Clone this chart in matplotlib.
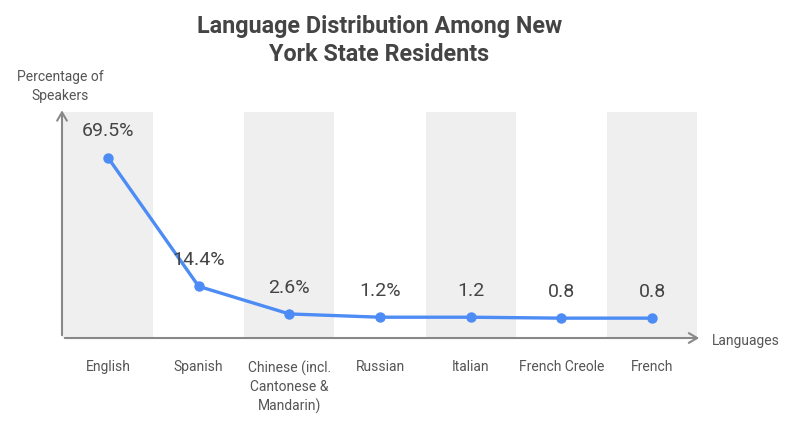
import matplotlib.pyplot as plt

plt.rcParams['font.family'] = ['Roboto', 'DejaVu Sans']

languages = ["English", "Spanish", "Chinese (incl.\nCantonese &\nMandarin)", "Russian",
             "Italian", "French Creole", "French"]
percent = [69.5, 14.4, 2.6, 1.2, 1.2, 0.8, 0.8]
value_labels = ["69.5%", "14.4%", "2.6%", "1.2%", "1.2", "0.8", "0.8"]

fig = plt.figure(figsize=(8, 4.24), dpi=100)
ax = fig.add_axes([0.0775, 0.2028, 0.8, 0.533])

x = list(range(len(languages)))

# alternating background bands
for i in x[::2]:
    ax.axvspan(i - 0.496, i + 0.496, color='#efefef', lw=0, zorder=0)

ax.plot(x, percent, color='#4d8cf5', lw=2.4, marker='o', markersize=6.5, zorder=3)

for xi, yi, lab in zip(x, percent, value_labels):
    ax.annotate(lab, (xi, yi), xytext=(0, 19), textcoords='offset points',
                ha='center', va='center', fontsize=14, color='#444444')

ax.set_xlim(-0.507, 6.55)
ax.set_ylim(-7.7, 89)

for s in ax.spines.values():
    s.set_visible(False)
ax.set_yticks([])
ax.set_xticks(x)
ax.set_xticklabels(languages, fontsize=10, color='#555555', va='top', linespacing=1.4)
ax.tick_params(axis='x', length=0, pad=16)

# axis arrows
arrow = dict(arrowstyle='->,head_length=0.6,head_width=0.35', color='#888888', lw=1.5)
ax.annotate('', xy=(1.0, 0), xytext=(0, 0), xycoords='axes fraction', arrowprops=arrow)
ax.annotate('', xy=(0, 1.02), xytext=(0, 0), xycoords='axes fraction', arrowprops=arrow)

fig.text(0.89, 0.196, "Languages", fontsize=10, color='#555555', va='center', ha='left')
fig.text(0.075, 0.797, "Percentage of\nSpeakers", fontsize=10, color='#555555',
         ha='center', va='center', linespacing=1.45)

fig.text(0.474, 0.905, "Language Distribution Among New\nYork State Residents",
         fontsize=16.8, fontweight='bold', color='#444444', ha='center', va='center',
         linespacing=1.25)

fig.savefig("out.png", dpi=100)
